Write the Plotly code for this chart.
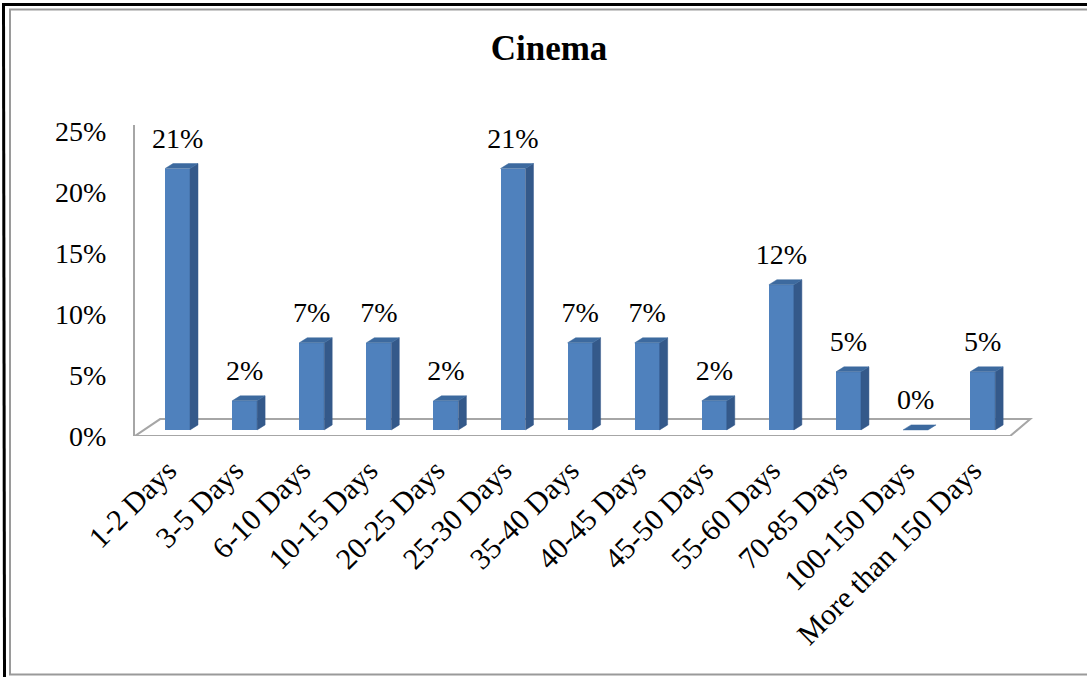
import plotly.graph_objects as go

# ---- data ----
categories = ["1-2 Days", "3-5 Days", "6-10 Days", "10-15 Days", "20-25 Days",
              "25-30 Days", "35-40 Days", "40-45 Days", "45-50 Days", "55-60 Days",
              "70-85 Days", "100-150 Days", "More than 150 Days"]
counts = [9, 1, 3, 3, 1, 9, 3, 3, 1, 5, 2, 0, 2]
total = 42
values = [c / total for c in counts]
y_ticks = [0, 0.05, 0.10, 0.15, 0.20, 0.25]
y_ticktext = ["0%", "5%", "10%", "15%", "20%", "25%"]
title_text = "Cinema"

# ---- style / layout constants ----
W, H = 1087, 677
L_M, R_M = 135, 54
T_M = 125
B_M = H - 436
PW, PH = W - L_M - R_M, H - T_M - B_M
X_RANGE = [-0.634, 12.75]
Y_RANGE = [0, 0.255]
HALF = 0.186          # half width of front face (category units)
DX = 0.119            # depth offset x (category units)
DY = 0.0041           # depth offset y (value units)
BASE = 0.005          # bar base lift
LABEL_PAD = 0.007
FRONT = "#4f81bd"
SIDE = "#34598a"
TOP = "#3d6a9f"
FONT = "Liberation Serif, Times New Roman, serif"

xs = list(range(len(categories)))

side_x, side_y, top_x, top_y = [], [], [], []
for i, v in zip(xs, values):
    x1 = i + HALF
    b = BASE
    t = v + BASE
    if v > 0:
        side_x += [x1, x1 + DX, x1 + DX, x1, x1, None]
        side_y += [b, b + DY, t + DY, t, b, None]
    top_x += [i - HALF, i + HALF, i + HALF + DX, i - HALF + DX, i - HALF, None]
    top_y += [t, t, t + DY, t + DY, t, None]

fig = go.Figure()

# front faces
fig.add_trace(go.Bar(
    x=xs, y=values, base=BASE, width=2 * HALF,
    marker=dict(color=FRONT, line=dict(width=0)),
    showlegend=False, hoverinfo="skip"))

# side faces
fig.add_trace(go.Scatter(
    x=side_x, y=side_y, mode="lines", fill="toself", fillcolor=SIDE,
    line=dict(color=SIDE, width=0.5), hoverinfo="skip", showlegend=False,
    cliponaxis=False))

# top faces
fig.add_trace(go.Scatter(
    x=top_x, y=top_y, mode="lines", fill="toself", fillcolor=TOP,
    line=dict(color=TOP, width=0.5), hoverinfo="skip", showlegend=False,
    cliponaxis=False))

# data labels
fig.add_trace(go.Scatter(
    x=xs, y=[v + BASE + DY + LABEL_PAD for v in values],
    mode="text", text=[f"{round(v * 100):.0f}%" for v in values],
    textposition="top center",
    textfont=dict(family=FONT, size=28, color="#000000"),
    hoverinfo="skip", showlegend=False, cliponaxis=False))


def px_x(p):
    return (p - L_M) / PW


def px_y(p):
    return (H - B_M - p) / PH


def pline(x0, y0, x1, y1, color, width):
    return dict(type="line", xref="paper", yref="paper",
                x0=px_x(x0), y0=px_y(y0), x1=px_x(x1), y1=px_y(y1),
                line=dict(color=color, width=width), layer="above")


# floor (3D base) drawn below data
fx0, fx1 = X_RANGE[0], 12.41
bx0, bx1 = -0.26, 12.71
fdy = 0.0139
floor_path = f"M {fx0},0 L {fx1},0 L {bx1},{fdy} L {bx0},{fdy} Z"

shapes = [
    dict(type="path", xref="x", yref="y", path=floor_path,
         fillcolor="#ffffff", line=dict(color="#a6a6a6", width=2), layer="below"),
    # outer black frame (top, left)
    pline(2, 4.5, W, 4.5, "#000000", 3),
    pline(3.5, 3, 4.5, H, "#000000", 3),
    # inner gray frame (top, left, bottom)
    pline(9, 9.5, W, 9.5, "#9a9a9a", 2),
    pline(10, 9, 10, 675, "#9a9a9a", 2),
    pline(9, 674.5, W, 674.5, "#9a9a9a", 2),
]

fig.update_layout(
    width=W, height=H,
    margin=dict(l=L_M, r=R_M, t=T_M, b=B_M, autoexpand=False),
    paper_bgcolor="#ffffff", plot_bgcolor="rgba(0,0,0,0)",
    title=dict(text=f"<b>{title_text}</b>", x=549 / W, xanchor="center",
               y=1 - 48 / H, yanchor="middle", xref="container", yref="container",
               font=dict(family=FONT, size=35, color="#000000")),
    xaxis=dict(range=X_RANGE, tickvals=xs, ticktext=categories, tickangle=-45,
               showgrid=False, zeroline=False, showline=False, ticks="",
               ticklabelstandoff=10, ticklabelshift=-10,
               tickfont=dict(family=FONT, size=30, color="#000000")),
    yaxis=dict(range=Y_RANGE, tickvals=y_ticks, ticktext=y_ticktext,
               showgrid=False, zeroline=False, showline=True,
               linecolor="#a6a6a6", linewidth=2, ticks="",
               ticklabelstandoff=21,
               tickfont=dict(family=FONT, size=28, color="#000000")),
    shapes=shapes,
    bargap=0,
)

fig.write_html("out.html", config={"displayModeBar": False, "staticPlot": True},
               post_script="document.body.style.margin='0';document.body.style.overflow='hidden';")
